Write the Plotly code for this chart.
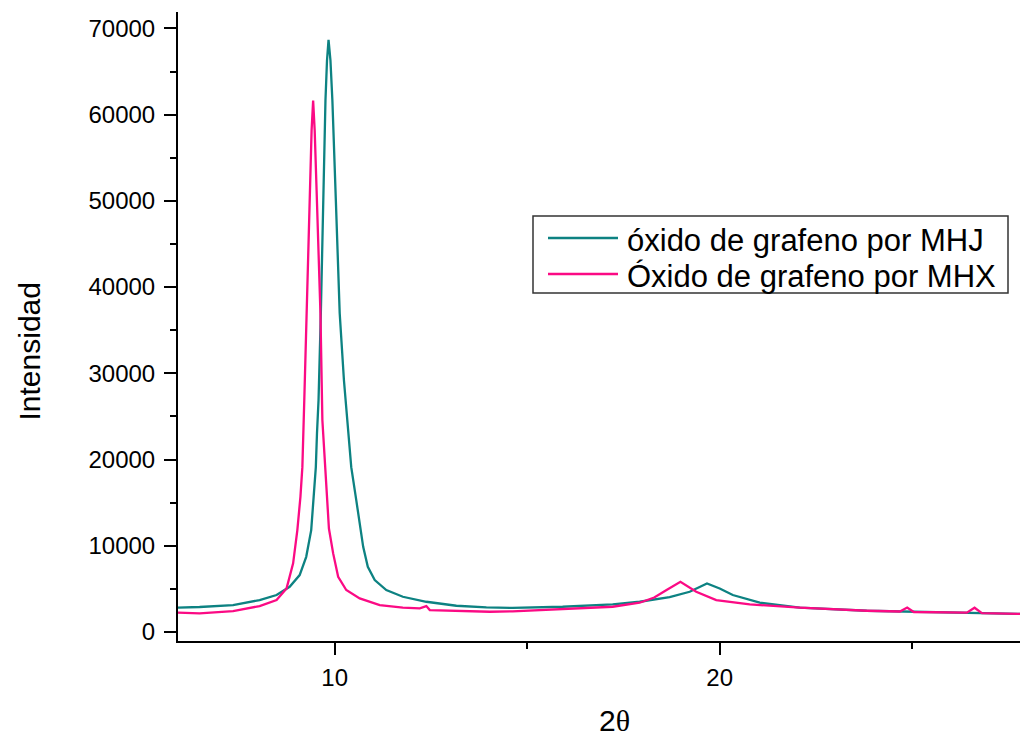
import plotly.graph_objects as go

# Teal series: óxido de grafeno por MHJ
mhj_x = [5.93, 6.49, 7.36, 8.05, 8.49, 8.83, 9.09, 9.26, 9.39, 9.46, 9.51, 9.54, 9.58, 9.64,
         9.70, 9.76, 9.80, 9.84, 9.89, 9.94, 10.03, 10.13, 10.24, 10.32, 10.43, 10.56, 10.65,
         10.74, 10.86, 11.04, 11.34, 11.77, 12.38, 13.16, 13.94, 14.62, 15.92, 17.22, 17.92,
         18.70, 19.22, 19.67, 20.00, 20.34, 21.04, 22.08, 23.82, 24.86, 26.42, 27.85]
mhj_y = [2820, 2900, 3130, 3710, 4290, 5250, 6600, 8720, 11820, 15680, 19120, 23060, 26880, 36960,
         50060, 61640, 66280, 68680, 66280, 61640, 50060, 36960, 29200, 24560, 19120, 15300, 12600,
         9880, 7570, 6030, 4870, 4090, 3510, 3050, 2860, 2800, 2930, 3210, 3510,
         4050, 4670, 5640, 5050, 4290, 3400, 2820, 2470, 2350, 2240, 2090]

# Pink series: Óxido de grafeno por MHX
mhx_x = [5.93, 6.49, 7.36, 8.05, 8.49, 8.75, 8.92, 9.03, 9.11, 9.16, 9.21, 9.25, 9.32, 9.35,
         9.40, 9.44, 9.48, 9.53, 9.63, 9.68, 9.76, 9.85, 9.96, 10.09, 10.30, 10.65, 11.17,
         11.77, 12.21, 12.38, 12.47, 13.33, 14.03, 14.62, 15.92, 17.22, 17.92, 18.30, 18.62,
         18.98, 19.39, 19.91, 20.78, 22.08, 23.82, 24.68, 24.87, 25.04, 26.42, 26.62, 26.81, 27.85]
mhx_y = [2240, 2170, 2430, 3010, 3710, 5060, 7960, 11820, 15680, 19120, 26880, 33830, 44610, 50060,
         58170, 61640, 58170, 51220, 36960, 24560, 19120, 12000, 9120, 6410, 4870, 3900, 3130,
         2820, 2750, 3010, 2550, 2430, 2350, 2400, 2670, 2930, 3400, 4000, 4870,
         5830, 4670, 3710, 3210, 2820, 2470, 2380, 2840, 2320, 2240, 2820, 2200, 2090]

names = ["óxido de grafeno por MHJ", "Óxido de grafeno por MHX"]
colors = ["#0d8282", "#fb0a84"]

FONT = "Liberation Sans, Arial, sans-serif"

fig = go.Figure()
fig.add_trace(go.Scatter(x=mhj_x, y=mhj_y, mode="lines", name=names[0],
                         line=dict(color=colors[0], width=2.3)))
fig.add_trace(go.Scatter(x=mhx_x, y=mhx_y, mode="lines", name=names[1],
                         line=dict(color=colors[1], width=2.3)))

axis_common = dict(showline=True, linecolor="black", linewidth=2, showgrid=False,
                   zeroline=False, ticks="outside", ticklen=12, tickwidth=2,
                   tickcolor="black", tickfont=dict(family=FONT, size=24, color="black"))

W, H = 1020, 738
ML, MT, MB, MR = 178, 12, 97, 0
plot_w = W - ML - MR
plot_h = H - MT - MB


def px(xp):
    return (xp - ML) / plot_w


def py(yp):
    return (H - MB - yp) / plot_h


# Legend drawn as a boxed key (Origin style: long line samples)
legend_shapes = [
    dict(type="rect", xref="paper", yref="paper", x0=px(533), x1=px(1008), y0=py(293), y1=py(216),
         line=dict(color="#333333", width=1.5), fillcolor="white", layer="above"),
]
legend_annots = []
for i, (nm, col) in enumerate(zip(names, colors)):
    yrow = 238 + 36 * i
    legend_shapes.append(dict(type="line", xref="paper", yref="paper", x0=px(548), x1=px(618),
                              y0=py(yrow), y1=py(yrow), line=dict(color=col, width=2.5),
                              layer="above"))
    legend_annots.append(dict(text=nm, x=px(625), y=py(yrow + 2), xref="paper", yref="paper",
                              xanchor="left", yanchor="middle", showarrow=False,
                              font=dict(family=FONT, size=31, color="black")))

fig.update_layout(
    width=W, height=H,
    margin=dict(l=ML, r=MR, t=MT, b=MB, autoexpand=False),
    paper_bgcolor="white", plot_bgcolor="white",
    font=dict(family=FONT, color="black"),
    xaxis=dict(range=[5.93, 27.8], tick0=0, dtick=10, ticklabelstandoff=2,
               minor=dict(dtick=5, tick0=0, ticks="outside", ticklen=6, tickwidth=2,
                          tickcolor="black"),
               **axis_common),
    yaxis=dict(range=[-1040, 71900], tick0=0, dtick=10000, tickformat="d",
               ticklabelstandoff=4,
               minor=dict(dtick=5000, tick0=0, ticks="outside", ticklen=6, tickwidth=2,
                          tickcolor="black"),
               **axis_common),
    showlegend=False,
    shapes=legend_shapes,
    annotations=[
        dict(text="Intensidad", x=px(28.5), y=py(352),
             xref="paper", yref="paper", xanchor="center", yanchor="middle",
             showarrow=False, textangle=-90,
             font=dict(family=FONT, size=30, color="black")),
        dict(text="2<span style='font-family:Liberation Serif, Times New Roman, serif'>θ</span>",
             x=px(614), y=py(720),
             xref="paper", yref="paper", xanchor="center", yanchor="middle",
             showarrow=False, font=dict(family=FONT, size=30, color="black")),
    ] + legend_annots,
)

fig.write_html("out.html",
               config={"displayModeBar": False},
               post_script="document.body.style.margin='0px';"
                           "document.body.style.overflow='hidden';")
